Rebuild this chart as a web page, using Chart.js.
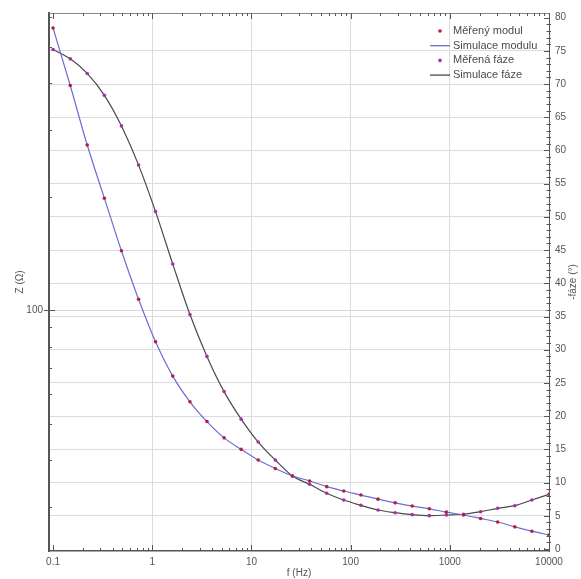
<!DOCTYPE html>
<html>
<head>
<meta charset="utf-8">
<title>Modul a fáze impedance</title>
<script src="https://cdn.jsdelivr.net/npm/chart.js@4.4.1/dist/chart.umd.min.js"></script>
<style>
  html, body { margin: 0; padding: 0; background: #fff; }
  #graf { display: block; }
</style>
</head>
<body>
<canvas id="graf" width="581" height="579"></canvas>
<script>
// frekvence měření (Hz)
const freq = [0.1, 0.149, 0.221, 0.329, 0.489, 0.728, 1.08, 1.61, 2.40, 3.56,
  5.30, 7.88, 11.7, 17.4, 25.9, 38.6, 57.4, 85.3, 127, 189,
  281, 418, 621, 924, 1374, 2043, 3039, 4520, 6723, 10000];

// |Z| (ohm)
const modul = [560, 394, 274, 198, 143.6, 106.8, 82.4, 66.8, 57.1, 50.6,
  45.8, 42.7, 40.0, 38.0, 36.3, 35.2, 34.0, 33.1, 32.3, 31.5,
  30.8, 30.2, 29.7, 29.1, 28.6, 28.0, 27.4, 26.6, 25.9, 25.3];

// -fáze (stupně)
const faze = [75.2, 73.8, 71.6, 68.3, 63.7, 57.8, 50.8, 42.9, 35.3, 29.0,
  23.7, 19.55, 16.1, 13.4, 11.0, 9.74, 8.39, 7.38, 6.58, 5.87,
  5.47, 5.17, 5.02, 5.12, 5.23, 5.62, 6.13, 6.52, 7.38, 8.24];

const xTicks = [0.1, 1, 10, 100, 1000, 10000];
const zTicks = [30, 40, 50, 60, 70, 80, 90, 100, 200, 300, 400, 500, 600];
const fazeTicks = [0, 5, 10, 15, 20, 25, 30, 35, 40, 45, 50, 55, 60, 65, 70, 75, 80];

const FONT = '"Liberation Sans", Arial, sans-serif';
const clear = 'rgba(0,0,0,0)';

function pts(xs, ys) {
  return xs.map((f, i) => ({ x: f, y: ys[i] }));
}

// čárky dovnitř grafu, horní okraj, popis pravé osy a legenda
const osyPlugin = {
  id: 'osy',
  afterDraw(chart) {
    const { ctx, chartArea: a, scales } = chart;
    const x = scales.x, y = scales.y, y1 = scales.y1;
    ctx.save();

    ctx.strokeStyle = '#8a8a8a';
    ctx.lineWidth = 1;
    ctx.beginPath();
    ctx.moveTo(a.left, a.top + 0.5);
    ctx.lineTo(a.right, a.top + 0.5);
    ctx.stroke();

    ctx.strokeStyle = '#555';
    ctx.beginPath();
    for (const d of xTicks) {
      for (let m = 1; m < 10; m++) {
        const v = d * m;
        if (v > 10000.5) break;
        const px = Math.round(x.getPixelForValue(v)) + 0.5;
        const len = m === 1 ? 6 : 3;
        ctx.moveTo(px, a.bottom);
        ctx.lineTo(px, a.bottom - len);
        ctx.moveTo(px, a.top);
        ctx.lineTo(px, a.top + len);
      }
    }
    for (const v of zTicks) {
      const py = Math.round(y.getPixelForValue(v)) + 0.5;
      if (v === 100) {
        ctx.moveTo(a.left - 5, py);
        ctx.lineTo(a.left + 6, py);
      } else {
        ctx.moveTo(a.left, py);
        ctx.lineTo(a.left + 3, py);
      }
    }
    for (let v = 0; v <= 80; v++) {
      const py = Math.round(y1.getPixelForValue(v)) + 0.5;
      const len = v % 5 === 0 ? 5 : 2.5;
      ctx.moveTo(a.right - len, py);
      ctx.lineTo(a.right + (v % 5 === 0 ? 0 : 2), py);
    }
    ctx.stroke();

    // popis pravé osy
    ctx.fillStyle = '#555';
    ctx.font = '10px ' + FONT;
    ctx.textAlign = 'center';
    ctx.textBaseline = 'middle';
    ctx.translate(573, (a.top + a.bottom) / 2);
    ctx.rotate(-Math.PI / 2);
    ctx.fillText('-fáze (°)', 0, 0);
    ctx.restore();

    // legenda
    ctx.save();
    ctx.font = '11px ' + FONT;
    ctx.textAlign = 'left';
    ctx.textBaseline = 'middle';
    chart.data.datasets.forEach((ds, i) => {
      const ly = 31 + i * 14.7;
      if (ds.showLine === false) {
        ctx.fillStyle = ds.pointBackgroundColor;
        ctx.beginPath();
        ctx.arc(440, ly, 1.8, 0, Math.PI * 2);
        ctx.fill();
      } else {
        ctx.strokeStyle = ds.borderColor;
        ctx.lineWidth = 1.3;
        ctx.beginPath();
        ctx.moveTo(430, ly);
        ctx.lineTo(450, ly);
        ctx.stroke();
      }
      ctx.fillStyle = '#4a4a4a';
      ctx.fillText(ds.label, 453, ly);
    });
    ctx.restore();
  }
};

const ctx = document.getElementById('graf').getContext('2d');
const graf = new Chart(ctx, {
  type: 'scatter',
  data: {
    datasets: [
      {
        label: 'Měřený modul',
        data: pts(freq, modul),
        yAxisID: 'y',
        showLine: false,
        pointRadius: 1.8,
        pointBorderWidth: 0,
        pointBackgroundColor: '#b81f3c',
        pointBorderColor: '#b81f3c'
      },
      {
        label: 'Simulace modulu',
        data: pts(freq, modul),
        yAxisID: 'y',
        showLine: true,
        cubicInterpolationMode: 'monotone',
        borderColor: '#6c6cd8',
        borderWidth: 1.2,
        pointRadius: 0
      },
      {
        label: 'Měřená fáze',
        data: pts(freq, faze),
        yAxisID: 'y1',
        showLine: false,
        pointRadius: 1.8,
        pointBorderWidth: 0,
        pointBackgroundColor: '#a8309f',
        pointBorderColor: '#a8309f'
      },
      {
        label: 'Simulace fáze',
        data: pts(freq, faze),
        yAxisID: 'y1',
        showLine: true,
        cubicInterpolationMode: 'monotone',
        borderColor: '#4a4a4a',
        borderWidth: 1.2,
        pointRadius: 0
      }
    ]
  },
  options: {
    responsive: false,
    animation: false,
    devicePixelRatio: 1,
    layout: { padding: { top: 13, left: 0, right: 0, bottom: 0 } },
    plugins: {
      legend: { display: false },
      tooltip: { enabled: false }
    },
    scales: {
      x: {
        type: 'logarithmic',
        position: 'bottom',
        min: 0.091,
        max: 10000,
        afterBuildTicks(s) { s.ticks = xTicks.map(v => ({ value: v })); },
        afterFit(s) { s.height = 28; },
        ticks: {
          autoSkip: false,
          maxRotation: 0,
          padding: 5,
          color: '#555',
          font: { family: FONT, size: 10 },
          callback: v => String(v)
        },
        grid: {
          drawTicks: false,
          color: c => (c.tick && c.tick.value > 0.5 && c.tick.value < 5000) ? '#dcdcdc' : clear
        },
        border: { display: true, color: '#555', width: 1.5 },
        title: {
          display: true,
          text: 'f (Hz)',
          color: '#555',
          font: { family: FONT, size: 10 },
          padding: { top: 0, bottom: 0 }
        }
      },
      y: {
        type: 'logarithmic',
        position: 'left',
        min: 22.95,
        max: 613.6,
        afterBuildTicks(s) { s.ticks = zTicks.map(v => ({ value: v })); },
        afterFit(s) { s.width = 49; },
        ticks: {
          autoSkip: false,
          padding: 6,
          color: '#555',
          font: { family: FONT, size: 10 },
          callback: v => (v === 100 ? '100' : '')
        },
        grid: {
          drawTicks: false,
          color: c => (c.tick && c.tick.value === 100) ? '#d6d6d6' : clear
        },
        border: { display: true, color: '#555', width: 2 },
        title: {
          display: true,
          text: 'Z (Ω)',
          color: '#555',
          font: { family: FONT, size: 10 },
          padding: { top: 14, bottom: 0 }
        }
      },
      y1: {
        type: 'linear',
        position: 'right',
        min: -0.3,
        max: 80.7,
        afterBuildTicks(s) { s.ticks = fazeTicks.map(v => ({ value: v })); },
        afterFit(s) { s.width = 32; },
        ticks: {
          autoSkip: false,
          padding: 6,
          color: '#555',
          font: { family: FONT, size: 10 },
          callback: v => String(v)
        },
        grid: {
          drawTicks: false,
          color: c => (c.tick && c.tick.value > 0 && c.tick.value < 80) ? '#dcdcdc' : clear
        },
        border: { display: true, color: '#555', width: 1 }
      }
    }
  },
  plugins: [osyPlugin]
});
</script>
</body>
</html>
